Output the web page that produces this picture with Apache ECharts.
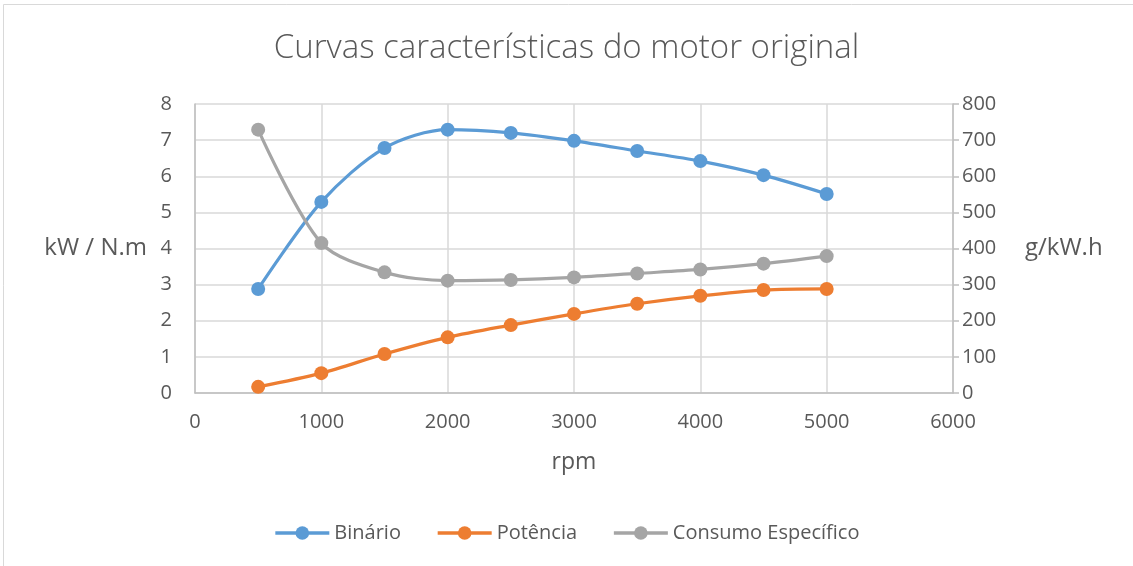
<!DOCTYPE html>
<html><head><meta charset="utf-8">
<script src="https://cdn.jsdelivr.net/npm/echarts@6/dist/echarts.min.js"></script>
<style>html,body{margin:0;padding:0;background:#fff}#c{width:1133px;height:566px}</style>
</head><body><div id="c"></div>
<script>
const rpm = [500,1000,1500,2000,2500,3000,3500,4000,4500,5000];
const binario = [2.88,5.29,6.78,7.29,7.2,6.98,6.7,6.42,6.03,5.51];
const potencia = [0.17,0.55,1.08,1.54,1.88,2.19,2.47,2.69,2.85,2.88];
const consumo = [729,415,334,311,313,320,331,342,358,379];
const seriesNames = ['Binário','Potência','Consumo Específico'];
const colors = ['#5B9BD5','#ED7D31','#A5A5A5'];
const txt = '#595959';
const font = 'Open Sans';
const chart = echarts.init(document.getElementById('c'));
const pair = (ys) => rpm.map((x,i)=>[x,ys[i]]);
const mk = (name, data, color, yi) => ({
  name, type:'line', data: pair(data), yAxisIndex: yi, smooth: 0.3,
  symbol:'circle', symbolSize:14, itemStyle:{color}, lineStyle:{color, width:3.2}, z: 3
});
const plain = v => String(v);
chart.setOption({
  animation:false,
  textStyle:{fontFamily:font},
  title:{text:'Curvas características do motor original', left:'center', top:27,
    textStyle:{fontSize:33, fontWeight:300, color:txt, fontFamily:font}},
  grid:{left:195, right:180, top:104, bottom:173},
  legend:{bottom:18, left:'center', itemWidth:54, itemHeight:17, itemGap:35,
    lineStyle:{width:3.5},
    textStyle:{fontSize:20, color:txt}, data: seriesNames},
  xAxis:{type:'value', min:0, max:6000, interval:1000, name:'rpm', nameLocation:'middle', nameGap:58,
    nameTextStyle:{fontSize:23, color:txt},
    axisLine:{show:true, lineStyle:{color:'#BFBFBF', width:1.5}}, axisTick:{show:false},
    axisLabel:{fontSize:20, color:txt, margin:19, formatter: plain},
    splitLine:{show:true, lineStyle:{color:'#D9D9D9', width:1.5}}},
  yAxis:[
    {type:'value', min:0, max:8, interval:1, name:'kW / N.m', nameLocation:'middle', nameRotate:0, nameGap:48,
      nameTextStyle:{fontSize:24, color:txt},
      axisLine:{show:true, lineStyle:{color:'#BFBFBF', width:1.5}}, axisTick:{show:false},
      axisLabel:{fontSize:20, color:txt, margin:23, formatter: plain},
      splitLine:{show:true, lineStyle:{color:'#D9D9D9', width:1.5}}},
    {type:'value', min:0, max:800, interval:100, name:'g/kW.h', nameLocation:'middle', nameRotate:0, nameGap:72,
      nameTextStyle:{fontSize:24, color:txt},
      axisLine:{show:true, lineStyle:{color:'#BFBFBF', width:1.5}}, axisTick:{show:true, length:6, lineStyle:{color:'#BFBFBF', width:1.5}},
      axisLabel:{fontSize:20, color:txt, margin:9, formatter: plain},
      splitLine:{show:false}}
  ],
  series:[
    mk(seriesNames[0], binario, colors[0], 0),
    mk(seriesNames[1], potencia, colors[1], 0),
    mk(seriesNames[2], consumo, colors[2], 1)
  ],
  graphic:[{type:'rect', shape:{x:3.5,y:4.5,width:1140,height:570}, style:{fill:'none', stroke:'#D9D9D9', lineWidth:1}, silent:true}]
});
</script></body></html>
